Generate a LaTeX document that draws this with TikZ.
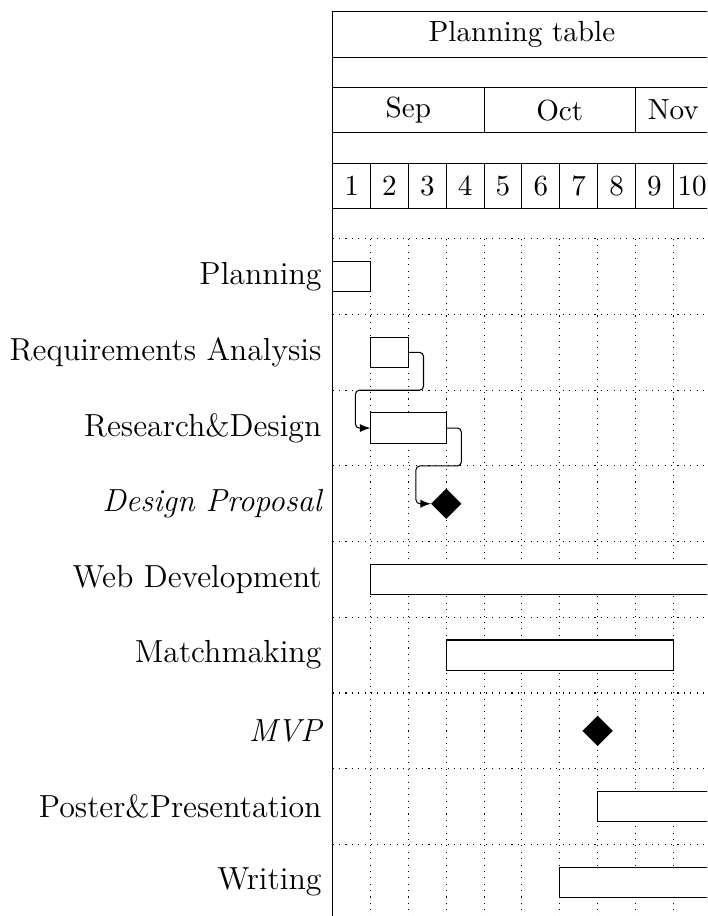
\documentclass[12pt,tikz,border=0pt]{standalone}
\usetikzlibrary{positioning}
\usetikzlibrary{shapes.geometric}
\tikzset{
	titlebox/.style = {draw, fill=white, rectangle, minimum height=0.6cm, inner sep=0pt, outer sep=0pt, font=\small},
	taskbar/.style = {draw, fill=white, rectangle, minimum height=0.4cm, inner sep=0pt, outer sep=0pt, anchor=west},
	milestone/.style = {diamond, fill=black, minimum size=0.4cm, inner sep=0pt, outer sep=0pt},
	tasklabel/.style = {anchor=east},
	tasklink/.style = {-latex, rounded corners=1.5pt},
	gridline/.style = {dotted}
}
\begin{document}
\begin{tikzpicture}
		\useasboundingbox (-4.395,0.155) rectangle (4.945,-11.946);
		\clip (-4.395,0.155) rectangle (4.945,-11.946);
		% grid
		\foreach \x in {0.5,1,...,4.5}
			\draw[gridline] (\x,-3) -- (\x,-12);
		\foreach \y in {3,...,11}
			\draw[gridline] (0,-\y) -- (5,-\y);
		% canvas
		\draw (5,0) -- (0,0) -- (0,-12);
		% titles
		\node[titlebox, minimum width=5cm] (title) at (2.5,-0.3) {Planning table};
		\node[titlebox, minimum width=2cm] (sep) at (1,-1.3) {Sep};
		\node[titlebox, minimum width=2cm] (oct) at (3,-1.3) {Oct};
		\node[titlebox, minimum width=1cm] (nov) at (4.5,-1.3) {Nov};
		\foreach \d in {1,...,10}
			\node[titlebox, minimum width=0.5cm] (day\d) at (\d*0.5-0.25,-2.3) {\d};
		% tasks
		\node[tasklabel] (lplan) at (0,-3.5) {Planning};
		\node[taskbar, minimum width=0.5cm] (plan) at (0,-3.5) {};
		\node[tasklabel] (lreq) at (0,-4.5) {Requirements Analysis};
		\node[taskbar, minimum width=0.5cm] (req) at (0.5,-4.5) {};
		\node[tasklabel] (lrd) at (0,-5.5) {Research\&Design};
		\node[taskbar, minimum width=1cm] (rd) at (0.5,-5.5) {};
		\node[tasklabel] (ldp) at (0,-6.5) {\itshape Design Proposal};
		\node[milestone] (dp) at (1.5,-6.5) {};
		\node[tasklabel] (lweb) at (0,-7.5) {Web Development};
		\node[taskbar, minimum width=4.5cm] (web) at (0.5,-7.5) {};
		\node[tasklabel] (lmatch) at (0,-8.5) {Matchmaking};
		\node[taskbar, minimum width=3cm] (match) at (1.5,-8.5) {};
		\node[tasklabel] (lmvp) at (0,-9.5) {\itshape MVP};
		\node[milestone] (mvp) at (3.5,-9.5) {};
		\node[tasklabel] (lposter) at (0,-10.5) {Poster\&Presentation};
		\node[taskbar, minimum width=1.5cm] (poster) at (3.5,-10.5) {};
		\node[tasklabel] (lwrite) at (0,-11.5) {Writing};
		\node[taskbar, minimum width=2cm] (write) at (3,-11.5) {};
		% links
		\draw[tasklink] (req.east) -- ++(0.2,0) -- ++(0,-0.5)
		      -| ([xshift=-2mm]rd.west) -- (rd.west);
		\draw[tasklink] (rd.east) -- ++(0.2,0) -- ++(0,-0.5)
		      -| ([xshift=-2mm]dp.west) -- (dp.west);
	\end{tikzpicture}
\end{document}
